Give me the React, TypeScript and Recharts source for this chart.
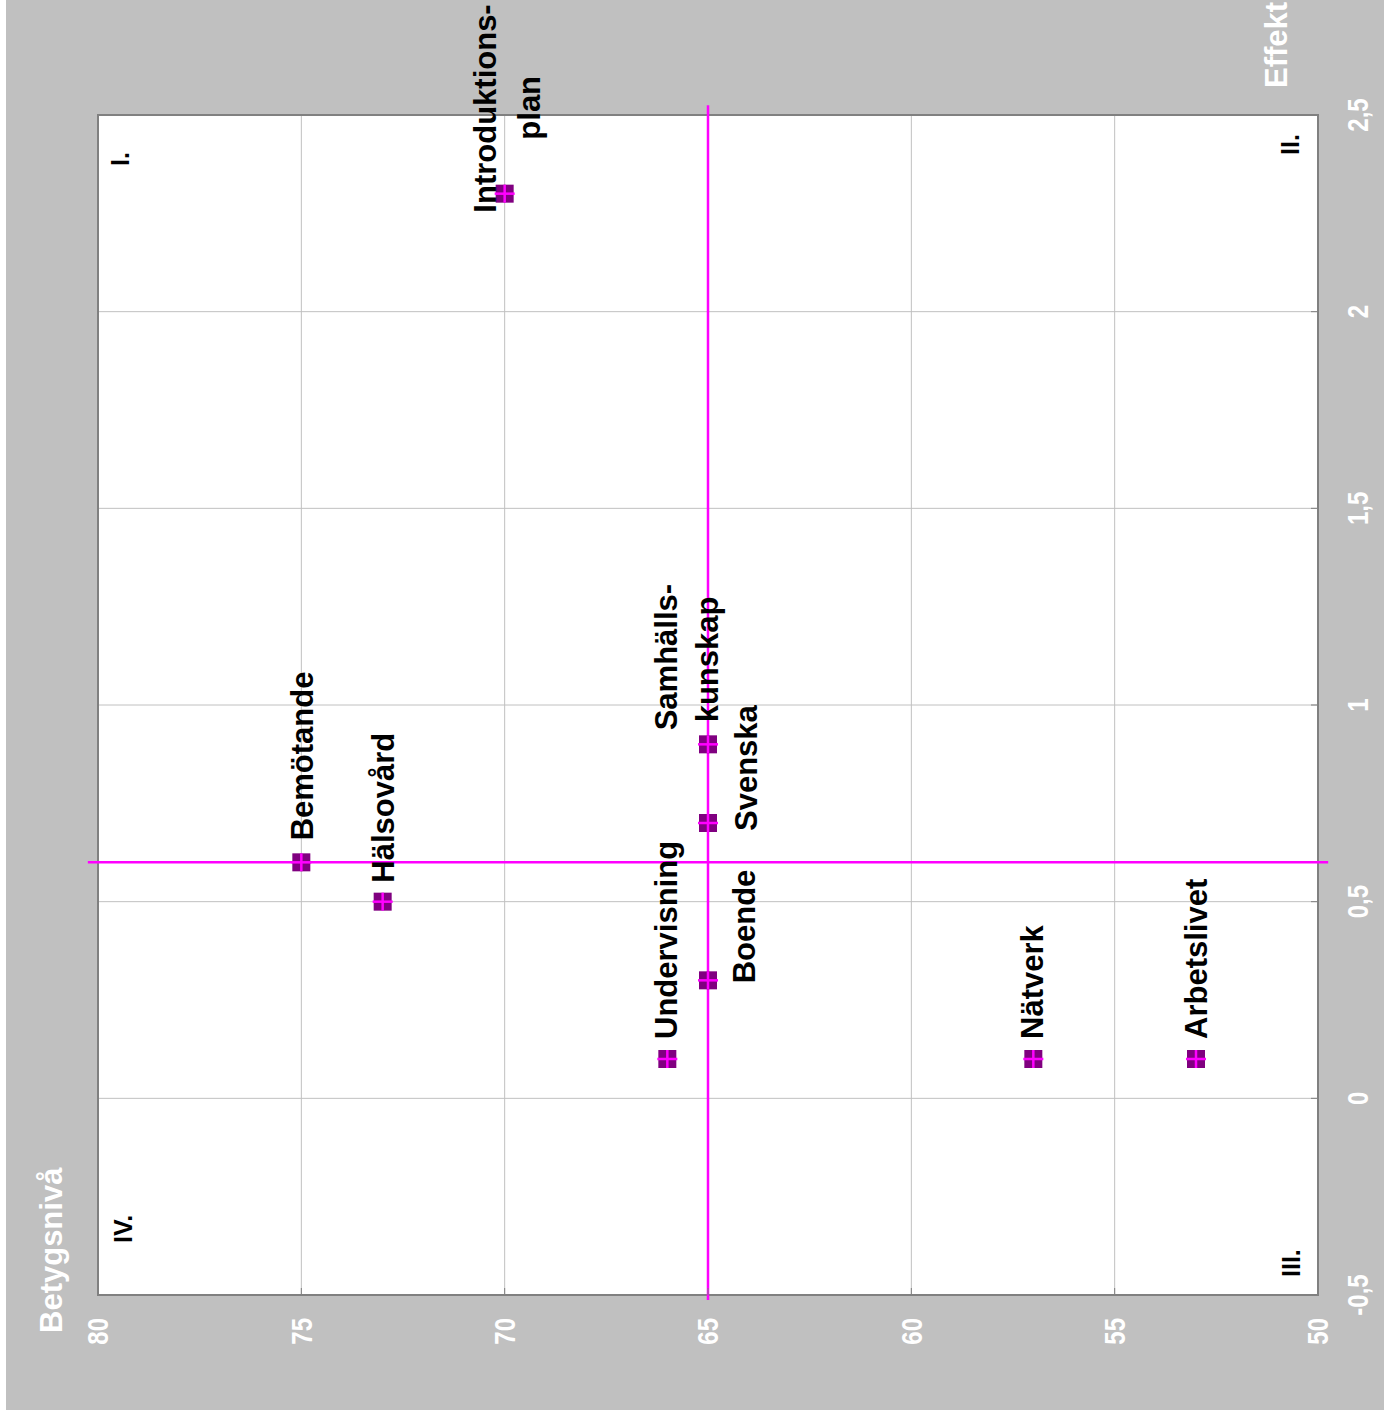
import React from "react";
import {
  ScatterChart,
  Scatter,
  XAxis,
  YAxis,
  CartesianGrid,
  ReferenceLine,
  ReferenceArea,
} from "recharts";

const FONT = "'Liberation Sans', Arial, sans-serif";

const omraden = [
  "Introduktionsplan",
  "Bemötande",
  "Hälsovård",
  "Undervisning",
  "Boende",
  "Svenska",
  "Samhällskunskap",
  "Nätverk",
  "Arbetslivet",
];
const etiketter = [
  ["Introduktions-", "plan"],
  ["Bemötande"],
  ["Hälsovård"],
  ["Undervisning"],
  ["Boende"],
  ["Svenska"],
  ["Samhälls-", "kunskap"],
  ["Nätverk"],
  ["Arbetslivet"],
];
const betyg = [70, 75, 73, 66, 65, 65, 65, 57, 53];
const effekt = [2.3, 0.6, 0.5, 0.1, 0.3, 0.7, 0.9, 0.1, 0.1];

const betygTicks = [50, 55, 60, 65, 70, 75, 80];
const effektTicks = [-0.5, 0, 0.5, 1, 1.5, 2, 2.5];
const medelBetyg = 65;
const medelEffekt = 0.6;
const kvadranter = ["I.", "II.", "III.", "IV."];

// where each label line sits relative to its marker: [dx to baseline, dy to text start]
const labelOffsets: Record<string, [number, number][]> = {
  Introduktionsplan: [
    [-9, 19],
    [35, -54],
  ],
  Bemötande: [[12, -22]],
  Hälsovård: [[11, -19]],
  Undervisning: [[10, -20]],
  Boende: [[47, 3]],
  Svenska: [[49, 8]],
  Samhällskunskap: [
    [-31, -14],
    [10, -22],
  ],
  Nätverk: [[10, -20]],
  Arbetslivet: [[11, -20]],
};

// quadrant label positions on the page: [baseline x, text start y]
const kvadrantPos: [number, number][] = [
  [129, 166],
  [1299, 155],
  [1300, 1277],
  [132, 1243],
];

const data = omraden.map((namn, i) => ({
  namn,
  rader: etiketter[i],
  betyg: betyg[i],
  effekt: effekt[i],
}));

const PLOT_BOTTOM = 1295;
const PLOT_RIGHT = 1312;

const fmt = (v: number) => String(v).replace(".", ",");

const XTick = (props: any) => {
  const { x, payload } = props;
  return (
    <g>
      <line x1={x} x2={x} y1={PLOT_BOTTOM} y2={PLOT_BOTTOM - 7} stroke="#808080" strokeWidth={1} />
      <text
        transform={`translate(${x},${1318}) rotate(-90) scale(1,1.2)`}
        textAnchor="end"
        dy="0.36em"
        fontSize={24}
        fontWeight="bold"
        fontFamily={FONT}
        fill="#ffffff"
      >
        {fmt(payload.value)}
      </text>
    </g>
  );
};

const YTick = (props: any) => {
  const { y, payload } = props;
  return (
    <g>
      <line x1={PLOT_RIGHT} x2={PLOT_RIGHT - 7} y1={y} y2={y} stroke="#808080" strokeWidth={1} />
      <text
        transform={`translate(${1352},${y}) rotate(-90) scale(1,1.2)`}
        textAnchor="middle"
        dy="0.36em"
        fontSize={24}
        fontWeight="bold"
        fontFamily={FONT}
        fill="#ffffff"
      >
        {fmt(payload.value)}
      </text>
    </g>
  );
};

const Marker = (props: any) => {
  const { cx, cy, payload } = props;
  const offs = labelOffsets[payload.namn] || [];
  return (
    <g>
      <rect x={cx - 9} y={cy - 9} width={18} height={18} fill="#800080" />
      <line x1={cx - 10} x2={cx + 10} y1={cy} y2={cy} stroke="#ff00ff" strokeWidth={2.5} />
      <line x1={cx} x2={cx} y1={cy - 9} y2={cy + 9} stroke="#ff00ff" strokeWidth={2.5} />
      {payload.rader.map((t: string, i: number) => (
        <text
          key={t}
          transform={`translate(${cx + offs[i][0]},${cy + offs[i][1]}) rotate(-90)`}
          fontSize={31}
          fontWeight="bold"
          fontFamily={FONT}
          fill="#000000"
        >
          {t}
        </text>
      ))}
    </g>
  );
};

const App = () => {
  return (
    <div
      style={{
        position: "absolute",
        left: 0,
        top: 0,
        width: 1391,
        height: 1420,
        background: "#ffffff",
        overflow: "hidden",
      }}
    >
      <div
        style={{
          position: "absolute",
          left: 6,
          top: 0,
          width: 1378,
          height: 1410,
          background: "#c0c0c0",
        }}
      >
        <ScatterChart
          width={1378}
          height={1410}
          margin={{ top: 115, right: 6, bottom: 55, left: 92 }}
        >
          <CartesianGrid stroke="#c0c0c0" fill="#ffffff" />
          <XAxis
            type="number"
            dataKey="betyg"
            domain={[50, 80]}
            reversed
            ticks={betygTicks}
            interval={0}
            axisLine={false}
            tickLine={false}
            height={60}
            tick={XTick}
          />
          <YAxis
            type="number"
            dataKey="effekt"
            domain={[-0.5, 2.5]}
            orientation="right"
            ticks={effektTicks}
            interval={0}
            axisLine={false}
            tickLine={false}
            width={60}
            tick={YTick}
          />
          <ReferenceArea
            x1={80}
            x2={50}
            y1={-0.5}
            y2={2.5}
            fill="none"
            stroke="#808080"
            strokeWidth={2}
          />
          <ReferenceLine
            segment={[
              { x: medelBetyg, y: 2.525 },
              { x: medelBetyg, y: -0.513 },
            ]}
            ifOverflow="visible"
            stroke="#ff00ff"
            strokeWidth={2.5}
          />
          <ReferenceLine
            segment={[
              { x: 80.25, y: medelEffekt },
              { x: 49.75, y: medelEffekt },
            ]}
            ifOverflow="visible"
            stroke="#ff00ff"
            strokeWidth={2.5}
          />
          <Scatter data={data} shape={Marker} isAnimationActive={false} />
        </ScatterChart>
      </div>
      <svg
        width={1391}
        height={1420}
        style={{ position: "absolute", left: 0, top: 0, pointerEvents: "none" }}
      >
        <text
          transform="translate(62,1333) rotate(-90)"
          fontSize={31}
          fontWeight="bold"
          fontFamily={FONT}
          fill="#ffffff"
        >
          Betygsnivå
        </text>
        <text
          transform="translate(1287,88) rotate(-90)"
          fontSize={31}
          fontWeight="bold"
          fontFamily={FONT}
          fill="#ffffff"
        >
          Effekt
        </text>
        {kvadranter.map((k, i) => (
          <text
            key={k}
            transform={`translate(${kvadrantPos[i][0]},${kvadrantPos[i][1]}) rotate(-90)`}
            fontSize={25}
            fontWeight="bold"
            fontFamily={FONT}
            fill="#000000"
          >
            {k}
          </text>
        ))}
      </svg>
    </div>
  );
};

export default App;
